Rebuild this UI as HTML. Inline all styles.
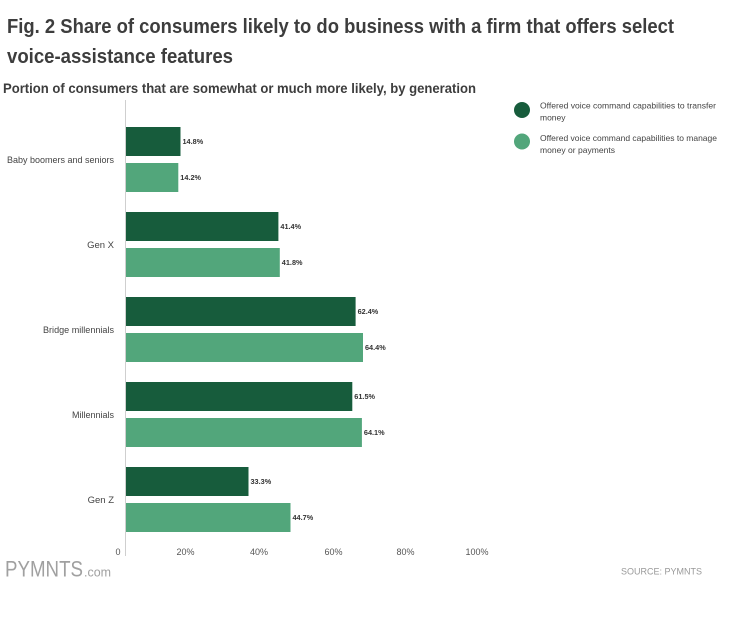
<!DOCTYPE html>
<html>
<head>
<meta charset="utf-8">
<style>
  html, body { margin:0; padding:0; background:#fff; }
  body { width:750px; height:640px; overflow:hidden; }
  svg { display:block; font-family:"Liberation Sans", Arial, sans-serif; }
</style>
</head>
<body>
<svg width="750" height="640" viewBox="0 0 750 640" xmlns="http://www.w3.org/2000/svg">
  <rect width="750" height="640" fill="#fff"/>
  <!-- Title -->
  <text x="7" y="33" font-size="20" font-weight="bold" fill="#3d3d3d" textLength="667" lengthAdjust="spacingAndGlyphs">Fig. 2 Share of consumers likely to do business with a firm that offers select</text>
  <text x="7" y="63" font-size="20" font-weight="bold" fill="#3d3d3d" textLength="226" lengthAdjust="spacingAndGlyphs">voice-assistance features</text>
  <!-- Subtitle -->
  <text x="3" y="93" font-size="14" font-weight="bold" fill="#3d3d3d" textLength="473" lengthAdjust="spacingAndGlyphs">Portion of consumers that are somewhat or much more likely, by generation</text>

  <!-- Legend -->
  <circle cx="522" cy="110" r="8" fill="#175c3c"/>
  <text x="540" y="108.5" font-size="8.5" fill="#444" textLength="176" lengthAdjust="spacingAndGlyphs">Offered voice command capabilities to transfer</text>
  <text x="540" y="120.5" font-size="8.5" fill="#444">money</text>
  <circle cx="522" cy="141.5" r="8" fill="#52a67b"/>
  <text x="540" y="141" font-size="8.5" fill="#444" textLength="177" lengthAdjust="spacingAndGlyphs">Offered voice command capabilities to manage</text>
  <text x="540" y="153" font-size="8.5" fill="#444" textLength="75" lengthAdjust="spacingAndGlyphs">money or payments</text>

  <!-- Axis line -->
  <line x1="125.5" y1="100" x2="125.5" y2="556" stroke="#cfcfcf" stroke-width="1"/>

  <!-- Category labels -->
  <g font-size="9.5" fill="#444">
    <text x="7" y="163" textLength="107" lengthAdjust="spacingAndGlyphs">Baby boomers and seniors</text>
    <text x="114" y="248" text-anchor="end">Gen X</text>
    <text x="43" y="333" textLength="71" lengthAdjust="spacingAndGlyphs">Bridge millennials</text>
    <text x="72" y="418" textLength="42" lengthAdjust="spacingAndGlyphs">Millennials</text>
    <text x="114" y="503" text-anchor="end">Gen Z</text>
  </g>

  <!-- Bars -->
  <g>
    <rect x="126" y="127" width="54.5" height="29" fill="#175c3c"/>
    <rect x="126" y="163" width="52.3" height="29" fill="#52a67b"/>
    <rect x="126" y="212" width="152.4" height="29" fill="#175c3c"/>
    <rect x="126" y="248" width="153.8" height="29" fill="#52a67b"/>
    <rect x="126" y="297" width="229.6" height="29" fill="#175c3c"/>
    <rect x="126" y="333" width="237" height="29" fill="#52a67b"/>
    <rect x="126" y="382" width="226.3" height="29" fill="#175c3c"/>
    <rect x="126" y="418" width="235.9" height="29" fill="#52a67b"/>
    <rect x="126" y="467" width="122.5" height="29" fill="#175c3c"/>
    <rect x="126" y="503" width="164.5" height="29" fill="#52a67b"/>
  </g>

  <!-- Value labels -->
  <g font-size="7.3" font-weight="bold" fill="#333">
    <text x="182.5" y="143.8">14.8%</text>
    <text x="180.3" y="179.8">14.2%</text>
    <text x="280.4" y="228.8">41.4%</text>
    <text x="281.8" y="264.8">41.8%</text>
    <text x="357.6" y="313.8">62.4%</text>
    <text x="365" y="349.8">64.4%</text>
    <text x="354.3" y="398.8">61.5%</text>
    <text x="363.9" y="434.8">64.1%</text>
    <text x="250.5" y="483.8">33.3%</text>
    <text x="292.5" y="519.8">44.7%</text>
  </g>

  <!-- Tick labels -->
  <g font-size="9" fill="#555" text-anchor="middle">
    <text x="118" y="555">0</text>
    <text x="185.5" y="555">20%</text>
    <text x="259" y="555">40%</text>
    <text x="333.5" y="555">60%</text>
    <text x="405.5" y="555">80%</text>
    <text x="477" y="555">100%</text>
  </g>

  <!-- Footer -->
  <text x="5" y="576.5" font-size="22" fill="#a0a0a0" textLength="78" lengthAdjust="spacingAndGlyphs">PYMNTS</text>
  <text x="84" y="576.5" font-size="13" fill="#a0a0a0" textLength="27" lengthAdjust="spacingAndGlyphs">.com</text>
  <text x="621" y="574.5" font-size="9.5" fill="#999" textLength="81" lengthAdjust="spacingAndGlyphs">SOURCE: PYMNTS</text>
</svg>
</body>
</html>
